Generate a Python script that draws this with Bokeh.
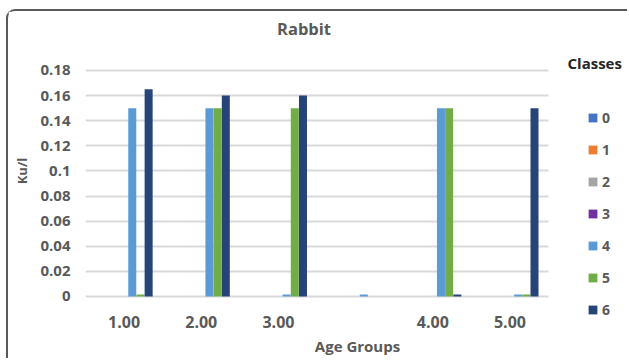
from bokeh.plotting import figure
from bokeh.models import (ColumnDataSource, Legend, LegendItem, FixedTicker, Label,
                          BoxAnnotation, Range1d)
from bokeh.transform import dodge
from bokeh.embed import file_html
from bokeh.resources import INLINE

groups = ["1.00", "2.00", "3.00", " ", "4.00", "5.00"]
classes = ["0", "1", "2", "3", "4", "5", "6"]
c0 = [0, 0, 0, 0, 0, 0]
c1 = [0, 0, 0, 0, 0, 0]
c2 = [0, 0, 0, 0, 0, 0]
c3 = [0, 0, 0, 0, 0, 0]
c4 = [0.15, 0.15, 0.0015, 0.0015, 0.15, 0.0015]
c5 = [0.0015, 0.15, 0.15, 0, 0.15, 0.0015]
c6 = [0.165, 0.16, 0.16, 0, 0.0015, 0.15]
y_ticks = [0, 0.02, 0.04, 0.06, 0.08, 0.1, 0.12, 0.14, 0.16, 0.18]
y_tick_labels = ["0", "0.02", "0.04", "0.06", "0.08", "0.1", "0.12", "0.14", "0.16", "0.18"]

colors = ["#4472C4", "#ED7D31", "#A5A5A5", "#7030A0", "#5B9BD5", "#70AD47", "#264478"]

x_pos = list(range(len(groups)))
src = ColumnDataSource(dict(x=x_pos, c0=c0, c1=c1, c2=c2, c3=c3, c4=c4, c5=c5, c6=c6))

FONT = "Open Sans"
GREY = "#595959"

Y0 = -0.02708
p = figure(x_range=Range1d(-0.5, 6.549), y_range=Range1d(Y0, 0.22698),
           width=621, height=349, output_backend="svg", toolbar_location=None,
           min_border_left=77, min_border_right=0, min_border_top=0, min_border_bottom=30)
p.outline_line_color = None
p.background_fill_color = "white"
p.border_fill_color = "white"
p.styles = {"margin-left": "6px", "margin-top": "9px",
            "border-left": "2px solid #595959", "border-top": "2px solid #595959",
            "border-top-left-radius": "9px"}

yticker = FixedTicker(ticks=y_ticks)
p.xgrid.grid_line_color = None
p.ygrid.ticker = yticker
p.ygrid.grid_line_color = "#D9D9D9"
p.ygrid.grid_line_width = 2

# mask grid lines to the right of the plotting area (legend region)
p.add_layout(BoxAnnotation(left=len(groups) - 0.5, fill_color="white", fill_alpha=1,
                           line_color=None, level="underlay"))

bw = 0.106
items = []
for k, cls in enumerate(classes):
    r = p.vbar(x=dodge("x", (k - 3) * bw), top="c%d" % k, width=bw * 0.98,
               source=src, fill_color=colors[k], line_color=None)
    items.append(LegendItem(label=cls, renderers=[r]))

legend = Legend(items=items, location=(502, 11), orientation="vertical",
                glyph_width=11, glyph_height=11, label_height=20, spacing=12,
                label_standoff=4, padding=0, margin=0,
                label_text_font=FONT, label_text_font_size="14px", label_text_color=GREY,
                label_text_font_style="bold",
                border_line_color=None, background_fill_alpha=0)
p.add_layout(legend, "center")

p.add_layout(Label(x=218.5, y=302, x_units="screen", y_units="screen", text="Rabbit",
                   text_align="center", text_baseline="middle", text_font=FONT,
                   text_font_size="16.5px", text_font_style="bold", text_color=GREY))
p.add_layout(Label(x=482, y=268, x_units="screen", y_units="screen", text="Classes",
                   text_align="left", text_baseline="middle", text_font=FONT,
                   text_font_size="15px", text_font_style="bold", text_color="#262626"))

p.yaxis.ticker = yticker
p.yaxis.bounds = (Y0, 0.18)
p.yaxis.major_label_overrides = {t: s for t, s in zip(y_ticks, y_tick_labels)}
p.xaxis.ticker = FixedTicker(ticks=x_pos)
p.xaxis.bounds = (-0.5, len(groups) - 0.5)
p.xaxis.major_label_overrides = {i: g for i, g in zip(x_pos, groups)}
for ax in (p.xaxis[0], p.yaxis[0]):
    ax.axis_line_color = None
    ax.major_tick_line_color = None
    ax.minor_tick_line_color = None
    ax.major_tick_out = 0
    ax.major_tick_in = 0
    ax.minor_tick_out = 0
    ax.major_label_text_font = FONT
    ax.major_label_text_font_style = "bold"
    ax.major_label_text_color = GREY
    ax.axis_label_text_font = FONT
    ax.axis_label_text_font_style = "bold"
    ax.axis_label_text_color = GREY

p.yaxis.major_label_text_font_size = "15px"
p.xaxis.major_label_text_font_size = "16px"
p.yaxis.axis_label = "Ku/l"
p.yaxis.axis_label_text_font_size = "13px"
p.yaxis.major_label_standoff = 15
p.yaxis.axis_label_standoff = 6
p.xaxis.axis_label = "Age Groups"
p.xaxis.axis_label_text_font_size = "15px"
p.xaxis.major_label_standoff = -20
p.xaxis.axis_label_standoff = 0

open("out.html", "w").write(file_html(p, INLINE))
